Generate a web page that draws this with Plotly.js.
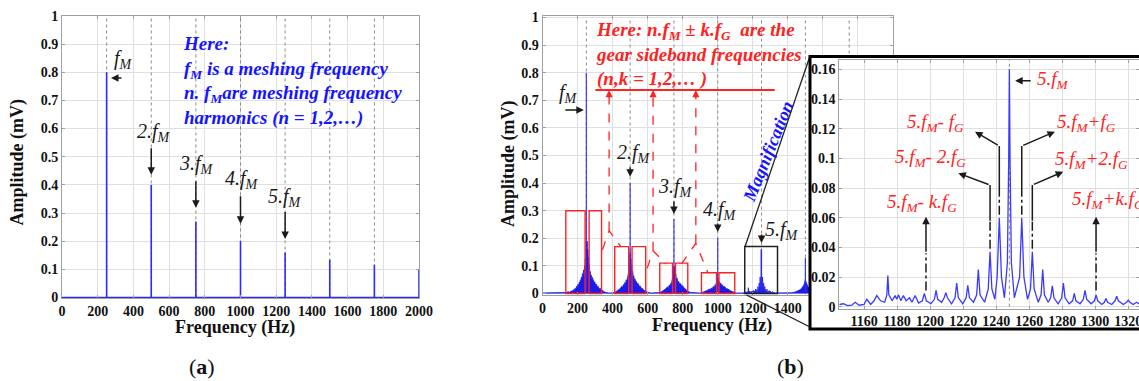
<!DOCTYPE html>
<html>
<head>
<meta charset="utf-8">
<script src="https://cdn.plot.ly/plotly-3.0.1.min.js"></script>
<style>
html,body{margin:0;padding:0;background:#fff;}
#chart{width:1139px;height:381px;}
</style>
</head>
<body>
<div id="chart"></div>
<script>
// ---------------- DATA ----------------
const harmonicFreq = [250, 500, 750, 1000, 1250, 1500, 1750, 2000];
const harmonicAmpA = [0.8, 0.4, 0.27, 0.2, 0.16, 0.134, 0.116, 0.1];
const harmonicAmpB = [0.8, 0.4, 0.27, 0.2, 0.157, 0.13, 0.115, 0.1];
const harmonicLabels = ['<i>f<sub>M</sub></i>', '<i>2.f<sub>M</sub></i>', '<i>3.f<sub>M</sub></i>', '<i>4.f<sub>M</sub></i>', '<i>5.f<sub>M</sub></i>'];

// panel (b): broadband noise around the harmonics
const hump1F = [0,60,120,135,145,155,163,170,176,181,186,190,194,198,202,206,210,213,216,219,222,225,228,231,234,237,240,242,244,246,248,249.5,251,253,255,257,259,261,263,265,267,270,273,276,279,282,285,288,291,295,299,303,308,313,318,324,330,336,343,350,360,375,390];
const hump1A = [0.002,0.002,0.003,0.004,0.006,0.005,0.009,0.008,0.014,0.011,0.019,0.015,0.026,0.021,0.033,0.027,0.042,0.034,0.05,0.043,0.06,0.052,0.072,0.062,0.085,0.075,0.1,0.09,0.125,0.11,0.16,0.19,0.185,0.17,0.19,0.15,0.16,0.125,0.13,0.1,0.105,0.075,0.08,0.062,0.066,0.054,0.058,0.046,0.05,0.038,0.042,0.03,0.034,0.023,0.026,0.016,0.019,0.011,0.012,0.006,0.004,0.002,0.002];
const hump2F = [400,410,418,426,434,440,446,452,457,462,466,470,474,478,482,485,488,491,494,496,498,499.5,501,503,505,507,509,512,515,518,521,524,528,532,536,541,546,552,558,564,571,578,586,594,602,620,640,655];
const hump2A = [0.002,0.004,0.006,0.009,0.012,0.016,0.02,0.026,0.023,0.033,0.029,0.04,0.036,0.05,0.045,0.062,0.056,0.078,0.07,0.1,0.125,0.15,0.145,0.12,0.125,0.095,0.1,0.075,0.08,0.06,0.064,0.05,0.053,0.042,0.044,0.034,0.036,0.026,0.027,0.019,0.018,0.012,0.009,0.006,0.004,0.002,0.002,0.002];
const hump3F = [662,670,678,686,694,701,707,713,718,723,727,731,735,738,741,744,746,748,749.5,751,753,755,758,761,764,768,772,777,782,788,794,800,807,814,822,830,845,870,895];
const hump3A = [0.002,0.004,0.006,0.009,0.012,0.016,0.02,0.024,0.022,0.03,0.027,0.036,0.033,0.043,0.04,0.052,0.062,0.075,0.095,0.1,0.085,0.09,0.065,0.07,0.052,0.056,0.042,0.044,0.034,0.036,0.027,0.028,0.02,0.018,0.012,0.008,0.004,0.002,0.002];
const hump4F = [905,915,925,934,942,950,957,963,969,974,979,983,987,991,994,997,999,1001,1003,1006,1009,1013,1017,1022,1027,1033,1040,1047,1055,1064,1073,1083,1093,1105,1130,1160];
const hump4A = [0.002,0.004,0.006,0.009,0.012,0.016,0.014,0.02,0.018,0.025,0.022,0.03,0.028,0.037,0.035,0.045,0.055,0.058,0.05,0.045,0.046,0.036,0.038,0.03,0.031,0.024,0.025,0.018,0.017,0.012,0.01,0.007,0.004,0.002,0.002,0.002];
const hump6F = [1330,1380,1420,1440,1452,1462,1470,1477,1483,1488,1492,1495,1498,1500,1502,1505,1509,1514,1520,1527,1535,1545];
const hump6A = [0.002,0.002,0.003,0.005,0.008,0.011,0.014,0.018,0.022,0.027,0.032,0.04,0.048,0.05,0.045,0.038,0.032,0.026,0.02,0.015,0.01,0.007];

// magnified spectrum around 5.fM (inset)
const insetFreq = [1145,1147.5,1150,1152.5,1154.6,1157,1160,1161.6,1164,1166,1167.7,1170,1172.5,1173.8,1174.4,1175,1177,1178.8,1179.8,1180.8,1182.3,1183.8,1185.5,1187.5,1189,1190.9,1193,1195.3,1196.5,1197.7,1200.5,1202.6,1203.6,1204.6,1207,1208.5,1209.5,1210.5,1213,1215.1,1216.1,1217.1,1219.8,1221.8,1222.8,1223.8,1226.3,1228.2,1229.2,1230.2,1233,1235.2,1236.3,1237.4,1239.2,1240.6,1241.9,1243.2,1245,1246.8,1247.6,1248,1248.4,1249.2,1251,1254.2,1255.5,1256.8,1259,1260.8,1261.9,1263,1265.5,1267.2,1268.2,1269.2,1271.5,1273,1274,1275,1277.5,1279.7,1280.7,1281.7,1284.2,1286.3,1287.3,1288.3,1290.8,1292.8,1293.8,1294.8,1297.5,1299.5,1300.5,1301.5,1304,1305.5,1306.5,1307.5,1310,1312,1313,1314,1317,1319,1320,1321,1323,1325,1328];
const insetAmp = [0.0015,0.002,0.0008,0.001,0.003,0.001,0.0015,0.005,0.0015,0.004,0.0075,0.004,0.003,0.008,0.021,0.008,0.004,0.0075,0.005,0.008,0.004,0.0075,0.004,0.006,0.003,0.0075,0.0025,0.004,0.009,0.004,0.002,0.005,0.011,0.005,0.003,0.006,0.0095,0.006,0.002,0.006,0.016,0.006,0.002,0.006,0.0145,0.006,0.003,0.008,0.025,0.008,0.003,0.012,0.037,0.012,0.005,0.02,0.06,0.02,0.006,0.03,0.1,0.16,0.1,0.03,0.006,0.02,0.06,0.02,0.005,0.012,0.037,0.012,0.003,0.008,0.025,0.008,0.003,0.006,0.014,0.006,0.002,0.006,0.016,0.006,0.002,0.004,0.009,0.004,0.002,0.005,0.011,0.005,0.002,0.004,0.008,0.004,0.0015,0.003,0.0055,0.003,0.0015,0.004,0.007,0.004,0.0015,0.003,0.0045,0.003,0.0015,0.003,0.001];
const insetPeakFreq = 1248;
const insetLabels = ['<i>5.f<sub>M</sub></i>', '<i>5.f<sub>M</sub>- f<sub>G</sub></i>', '<i>5.f<sub>M</sub>- 2.f<sub>G</sub></i>', '<i>5.f<sub>M</sub>- k.f<sub>G</sub></i>', '<i>5.f<sub>M</sub>+f<sub>G</sub></i>', '<i>5.f<sub>M</sub>+2.f<sub>G</sub></i>', '<i>5.f<sub>M</sub>+k.f<sub>G</sub></i>'];

const xTicksB = [0,200,400,600,800,1000,1200,1400,1600,1800,2000];
const xTickTextB = ['0','200','400','600','800','1000','1200','1400',' ',' ',' '];

// ---------------- HELPERS ----------------
const W = 1139, H = 381;
const PX = p => p / W;
const PY = p => 1 - p / H;
const FONT = 'Liberation Serif';
const BLUE = '#2b2bff';
const RED = '#ff2222';
const INK = '#1a1a1a';

function spikes(freqs, amps) {
  const x = [], y = [];
  freqs.forEach((f, i) => { x.push(f, f, null); y.push(0, amps[i], null); });
  return {x, y};
}
function vlines(freqs, y0, y1) {
  const x = [], y = [];
  freqs.forEach(f => { x.push(f, f, null); y.push(y0, y1, null); });
  return {x, y};
}
function ax(extra) {
  return Object.assign({
    showgrid: true, gridcolor: '#e0e0e0', gridwidth: 1,
    zeroline: false, showline: true, linecolor: '#a0a0a0', linewidth: 1,
    mirror: 'ticks', ticks: 'inside', ticklen: 3, tickcolor: '#a0a0a0',
    tickfont: {family: FONT, size: 14, color: '#111', weight: 'bold'},
    ticklabeloverflow: 'allow',
    fixedrange: true
  }, extra);
}

// ---------------- TRACES ----------------
const aDots = vlines(harmonicFreq.slice(0, 7), 0, 1);
const aSp = spikes(harmonicFreq, harmonicAmpA);
const bDots = vlines(harmonicFreq.slice(0, 7), 0, 1);
const bSp = spikes(harmonicFreq, harmonicAmpB);
const noiseF = [].concat(hump1F, hump2F, hump3F, hump4F);
const noiseA = [].concat(hump1A, hump2A, hump3A, hump4A);

const data = [
  {x: aDots.x, y: aDots.y, xaxis: 'x', yaxis: 'y', mode: 'lines', line: {color: '#8a8a8a', width: 1, dash: 'dot'}, hoverinfo: 'skip'},
  {x: [0, 2000], y: [0, 0], xaxis: 'x', yaxis: 'y', mode: 'lines', line: {color: BLUE, width: 1.5}, hoverinfo: 'skip'},
  {x: aSp.x, y: aSp.y, xaxis: 'x', yaxis: 'y', mode: 'lines', line: {color: BLUE, width: 1.6}, hoverinfo: 'skip'},

  {x: bDots.x, y: bDots.y, xaxis: 'x2', yaxis: 'y2', mode: 'lines', line: {color: '#8a8a8a', width: 1, dash: 'dot'}, hoverinfo: 'skip'},
  {x: noiseF, y: noiseA, xaxis: 'x2', yaxis: 'y2', mode: 'lines', fill: 'tozeroy', fillcolor: '#1c1ce8', line: {color: '#1c1ce8', width: 0.8}, hoverinfo: 'skip'},
  {x: insetFreq, y: insetAmp, xaxis: 'x2', yaxis: 'y2', mode: 'lines', fill: 'tozeroy', fillcolor: '#1c1ce8', line: {color: '#1c1ce8', width: 0.8}, hoverinfo: 'skip'},
  {x: hump6F, y: hump6A, xaxis: 'x2', yaxis: 'y2', mode: 'lines', fill: 'tozeroy', fillcolor: '#1c1ce8', line: {color: '#1c1ce8', width: 0.8}, hoverinfo: 'skip'},
  {x: bSp.x, y: bSp.y, xaxis: 'x2', yaxis: 'y2', mode: 'lines', line: {color: BLUE, width: 1.1}, hoverinfo: 'skip'},

  // empty cover panel behind the magnification box
  {x: [null], y: [null], xaxis: 'x3', yaxis: 'y3', mode: 'lines', hoverinfo: 'skip'},

  {x: [insetPeakFreq, insetPeakFreq], y: [0, 0.2], xaxis: 'x4', yaxis: 'y4', mode: 'lines', line: {color: '#8a8a8a', width: 1, dash: 'dot'}, hoverinfo: 'skip'},
  {x: insetFreq, y: insetAmp, xaxis: 'x4', yaxis: 'y4', mode: 'lines', line: {color: '#3a3aff', width: 1.3}, hoverinfo: 'skip'}
];

// ---------------- SHAPES ----------------
const shapes = [];
const redBoxes = [[133,243,0.3],[266,337,0.3],[412,492,0.17],[511,589,0.17],[669,742,0.11],[759,829,0.11],[907,993,0.075],[1007,1097,0.075]];
redBoxes.forEach(b => shapes.push({type: 'rect', xref: 'x2', yref: 'y2', x0: b[0], x1: b[1], y0: 0, y1: b[2], line: {color: RED, width: 1.4}, layer: 'above'}));
shapes.push({type: 'rect', xref: 'x2', yref: 'y2', x0: 1154, x1: 1341, y0: 0, y1: 0.17, line: {color: '#222', width: 1.5}, layer: 'above'});

const carets = [[342,0.158,380,0.228,447,0.17],[597,0.091,631,0.155,703,0.107],[793,0.107,875,0.182,945,0.073]];
const redLineY = 0.737;
carets.forEach(c => {
  shapes.push({type: 'path', xref: 'x2', yref: 'y2', path: `M${c[0]},${c[1]} L${c[2]},${c[3]} L${c[4]},${c[5]}`, line: {color: RED, width: 1.3, dash: 'dash'}, layer: 'above'});
  shapes.push({type: 'line', xref: 'x2', yref: 'y2', x0: c[2], x1: c[2], y0: c[3], y1: redLineY - 0.01, line: {color: RED, width: 1.3, dash: 'dash'}, layer: 'above'});
});
shapes.push({type: 'line', xref: 'x2', yref: 'y2', x0: 302, x1: 1325, y0: redLineY, y1: redLineY, line: {color: RED, width: 2}, layer: 'above'});

// magnification connectors and inset frame
shapes.push({type: 'line', xref: 'paper', yref: 'paper', x0: PX(745), y0: PY(246.7), x1: PX(810), y1: PY(56), line: {color: '#222', width: 1.3}, layer: 'above'});
shapes.push({type: 'line', xref: 'paper', yref: 'paper', x0: PX(746.5), y0: PY(295), x1: PX(810), y1: PY(327), line: {color: '#222', width: 1.3}, layer: 'above'});
shapes.push({type: 'rect', xref: 'paper', yref: 'paper', x0: PX(810), x1: PX(1150), y0: PY(329), y1: PY(56.5), line: {color: '#000', width: 3}, layer: 'above'});

// inset pointer lines
const insetArrowGeo = [
  {x: 1241.9, yp: 0.062, ym: 0.0753, yb: 0.1083, hx: 1227.2, hy: 0.118},
  {x: 1236.3, yp: 0.039, ym: 0.058, yb: 0.082, hx: 1217.1, hy: 0.09},
  {x: 1255.5, yp: 0.062, ym: 0.0753, yb: 0.1083, hx: 1275.6, hy: 0.118},
  {x: 1261.9, yp: 0.039, ym: 0.058, yb: 0.082, hx: 1280.6, hy: 0.091}
];
insetArrowGeo.forEach(g => {
  shapes.push({type: 'line', xref: 'x4', yref: 'y4', x0: g.x, x1: g.x, y0: g.yp, y1: g.ym, line: {color: INK, width: 1.5, dash: 'dashdot'}, layer: 'above'});
  shapes.push({type: 'line', xref: 'x4', yref: 'y4', x0: g.x, x1: g.x, y0: g.ym, y1: g.yb, line: {color: INK, width: 1.5}, layer: 'above'});
});
const kArrowX = [1197.5, 1300.5];
kArrowX.forEach(x => shapes.push({type: 'line', xref: 'x4', yref: 'y4', x0: x, x1: x, y0: 0.011, y1: 0.036, line: {color: INK, width: 1.5, dash: 'dashdot'}, layer: 'above'}));

// ---------------- ANNOTATIONS ----------------
const ann = [];
const lab = (xref, yref, x, y, text, size, color, extra) => ann.push(Object.assign({xref, yref, x, y, text, showarrow: false, xanchor: 'center', yanchor: 'middle', font: {family: FONT, size, color}}, extra || {}));
const arrow = (xref, yref, x, y, axp, ayp, color, extra) => ann.push(Object.assign({xref, yref, x, y, ax: axp, ay: ayp, text: '', showarrow: true, arrowhead: 2, arrowsize: 1, arrowwidth: 1.5, arrowcolor: color, standoff: 0}, extra || {}));

// panel (a) labels
const aLabelPos = [[342,0.845],[513,0.587],[755,0.472],[1007,0.418],[1249,0.356]];
aLabelPos.forEach((p, i) => lab('x', 'y', p[0], p[1], harmonicLabels[i], 20, INK));
arrow('x', 'y', 274.5, 0.78, 12, 0, INK);
const aArrow = [[500,0.436,-28],[750,0.319,-28],[1000,0.262,-29],[1250,0.208,-28.5]];
aArrow.forEach(a => arrow('x', 'y', a[0], a[1], 0, a[2], INK));

// panel (b) labels
const bLabelPos = [[148,0.723],[520,0.508],[761,0.384],[1011,0.30],[1368,0.23]];
bLabelPos.forEach((p, i) => lab('x2', 'y2', p[0], p[1], harmonicLabels[i], 20, INK));
arrow('x2', 'y2', 235.6, 0.665, -20, 0, INK);
const bArrow = [[500,0.423,-11],[750,0.288,-14],[1000,0.223,-10],[1250,0.183,-10]];
bArrow.forEach(a => arrow('x2', 'y2', a[0], a[1], 0, a[2], INK));
carets.forEach(c => arrow('x2', 'y2', c[2], redLineY, 0, 9, RED, {arrowwidth: 1.3, arrowsize: 1.1}));

// inset labels & pointers
const insetLabelPos = [[1274.4,0.1528,'center'],[1203,0.1237,'center'],[1200,0.1,'center'],[1195,0.07,'center'],[1294.8,0.1236,'center'],[1297.8,0.0989,'center'],[1284.7,0.072,'left']];
insetLabelPos.forEach((p, i) => lab('x4', 'y4', p[0], p[1], insetLabels[i], 19, RED, {xanchor: p[2]}));
arrow('x4', 'y4', 1251.5, 0.1523, 17, 0, INK);
insetArrowGeo.forEach(g => arrow('x4', 'y4', g.hx, g.hy, g.x, g.yb, INK, {axref: 'x4', ayref: 'y4'}));
kArrowX.forEach(x => arrow('x4', 'y4', x, 0.0607, x, 0.036, INK, {axref: 'x4', ayref: 'y4'}));

// text blocks
ann.push({xref: 'paper', yref: 'paper', x: PX(181), y: PY(31), xanchor: 'left', yanchor: 'top', align: 'left', showarrow: false,
  text: '<b><i>Here:<br>f<sub>M</sub> is a meshing frequency<br>n. f<sub>M</sub>are meshing frequency<br>harmonics (n = 1,2,…)</i></b>',
  font: {family: FONT, size: 19, color: '#1414ff'}});
ann.push({xref: 'paper', yref: 'paper', x: PX(594), y: PY(17), xanchor: 'left', yanchor: 'top', align: 'left', showarrow: false,
  text: '<b><i>Here: n.f<sub>M</sub> ± k.f<sub>G</sub>  are the<br>gear sideband frequencies<br>(n,k = 1,2,… )</i></b>',
  font: {family: FONT, size: 19, color: RED}});
ann.push({xref: 'paper', yref: 'paper', x: PX(768), y: PY(152), xanchor: 'center', yanchor: 'middle', textangle: -68, showarrow: false,
  text: '<b><i>Magnification</i></b>', font: {family: FONT, size: 18, color: '#1414ff'}});

// axis titles & panel letters
lab('paper', 'paper', PX(235), PY(327), '<b>Frequency (Hz)</b>', 18, '#111');
lab('paper', 'paper', PX(16.5), PY(162), '<b>Amplitude (mV)</b>', 18, '#111', {textangle: -90});
lab('paper', 'paper', PX(712), PY(325), '<b>Frequency (Hz)</b>', 18, '#111');
lab('paper', 'paper', PX(508), PY(163), '<b>Amplitude (mV)</b>', 18, '#111', {textangle: -90});
lab('paper', 'paper', PX(202), PY(366), '(<b>a</b>)', 22, '#111');
lab('paper', 'paper', PX(790), PY(366), '(<b>b</b>)', 22, '#111');

// ---------------- LAYOUT ----------------
const layout = {
  width: W, height: H,
  margin: {l: 0, r: 0, t: 0, b: 0},
  paper_bgcolor: '#fff', plot_bgcolor: '#fff',
  showlegend: false,
  font: {family: FONT},
  xaxis: ax({domain: [PX(62), PX(419)], range: [0, 2000], dtick: 200, tick0: 0, anchor: 'y'}),
  yaxis: ax({domain: [PY(298), PY(16)], range: [-0.002, 1.0], dtick: 0.1, tick0: 0, anchor: 'x'}),
  xaxis2: ax({domain: [PX(542.5), PX(893)], range: [0, 2000], tickmode: 'array', tickvals: xTicksB, ticktext: xTickTextB, anchor: 'y2'}),
  yaxis2: ax({domain: [PY(295), PY(16)], range: [-0.0054, 1.0054], dtick: 0.1, tick0: 0, anchor: 'x2'}),
  xaxis3: {domain: [PX(810), 1], range: [0, 1], visible: false, anchor: 'y3', fixedrange: true},
  yaxis3: {domain: [PY(330), PY(56)], range: [0, 1], visible: false, anchor: 'x3', fixedrange: true},
  xaxis4: ax({domain: [PX(839.3), 1], range: [1145, 1326.5], dtick: 20, tick0: 1160, anchor: 'y4'}),
  yaxis4: ax({domain: [PY(308.5), PY(60)], range: [-0.0012, 0.1663], dtick: 0.02, tick0: 0, anchor: 'x4'}),
  shapes: shapes,
  annotations: ann
};

Plotly.newPlot('chart', data, layout, {staticPlot: true, displayModeBar: false});
</script>
</body>
</html>
